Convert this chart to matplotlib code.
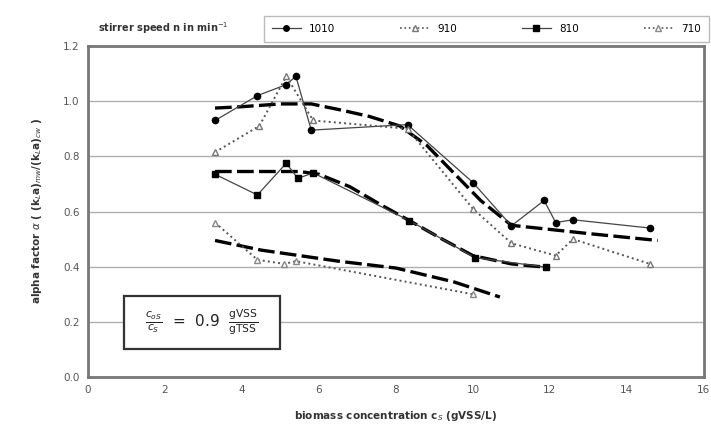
import matplotlib.pyplot as plt
from matplotlib.lines import Line2D
from matplotlib.patches import Rectangle

plt.rcParams['font.family'] = ['DejaVu Sans']

# measured series, stirrer speed in 1/min
x_1010 = [3.3, 4.4, 5.15, 5.4, 5.8, 8.3, 10.0, 11.0, 11.85, 12.15, 12.6, 14.6]
y_1010 = [0.93, 1.02, 1.06, 1.09, 0.895, 0.915, 0.705, 0.548, 0.64, 0.56, 0.57, 0.54]

x_910 = [3.3, 4.45, 5.15, 5.85, 8.3, 10.0, 11.0, 12.15, 12.6, 14.6]
y_910 = [0.815, 0.91, 1.09, 0.93, 0.90, 0.61, 0.485, 0.44, 0.50, 0.41]

x_810 = [3.3, 4.4, 5.15, 5.45, 5.85, 8.35, 10.05, 11.9]
y_810 = [0.735, 0.66, 0.775, 0.72, 0.74, 0.567, 0.433, 0.398]

x_710 = [3.3, 4.4, 5.1, 5.4, 10.0]
y_710 = [0.56, 0.425, 0.41, 0.42, 0.30]

# dashed trend curves
trend_hi_x = [3.3, 4.0, 5.0, 5.8, 6.5, 7.3, 8.1, 8.8, 9.5, 10.2, 11.0, 12.0, 13.0, 14.8]
trend_hi_y = [0.975, 0.98, 0.99, 0.99, 0.97, 0.945, 0.91, 0.84, 0.74, 0.64, 0.55, 0.535, 0.52, 0.495]
trend_mid_x = [3.3, 4.5, 5.5, 6.0, 6.8, 7.6, 8.35, 9.2, 10.0, 11.0, 11.9]
trend_mid_y = [0.745, 0.745, 0.745, 0.735, 0.69, 0.625, 0.567, 0.5, 0.44, 0.41, 0.398]
trend_lo_x = [3.3, 4.5, 6.5, 8.0, 9.5, 10.7]
trend_lo_y = [0.495, 0.46, 0.42, 0.395, 0.345, 0.29]

fig = plt.figure(figsize=(7.11, 4.36), dpi=100)
ax = fig.add_axes([0.1238, 0.1353, 0.8662, 0.7592])

dash = dict(color='black', lw=2.4, dashes=(5, 1.6), zorder=2)
ax.plot(trend_hi_x, trend_hi_y, **dash)
ax.plot(trend_mid_x, trend_mid_y, **dash)
ax.plot(trend_lo_x, trend_lo_y, **dash)

ax.plot(x_1010, y_1010, '-', color='#444444', lw=0.9, marker='o', ms=4.5,
        mfc='black', mec='black', zorder=3)
ax.plot(x_910, y_910, ':', color='#555555', lw=1.4, marker='^', ms=5,
        mfc='white', mec='#777777', zorder=3)
ax.plot(x_810, y_810, '-', color='#444444', lw=0.9, marker='s', ms=4.2,
        mfc='black', mec='black', zorder=3)
ax.plot(x_710, y_710, ':', color='#555555', lw=1.4, marker='^', ms=5,
        mfc='white', mec='#888888', zorder=3)

ax.set_xlim(0, 16)
ax.set_ylim(0, 1.2)
ax.set_xticks(range(0, 17, 2))
ax.set_yticks([0.0, 0.2, 0.4, 0.6, 0.8, 1.0, 1.2])
ax.set_yticklabels([f'{v:.1f}' for v in ax.get_yticks()])
ax.tick_params(length=0, labelsize=7.5, colors='#555555', pad=6)
ax.yaxis.grid(True, color='#b0b0b0', lw=1.0)
ax.set_axisbelow(True)
for s in ax.spines.values():
    s.set_color('#777777')
    s.set_linewidth(2)

ax.set_xlabel(r'biomass concentration c$_S$ (gVSS/L)', fontsize=7.5,
              fontweight='bold', color='#333333', labelpad=10)
ax.set_ylabel(r'alpha factor $\alpha$ ( (k$_L$a)$_{mw}$/(k$_L$a)$_{cw}$ )',
              fontsize=7.5, fontweight='bold', color='#333333', labelpad=14)

# annotation box
ax.add_patch(Rectangle((0.93, 0.10), 4.07, 0.194, fc='white', ec='#333333', lw=1.6, zorder=4))
ax.text(2.95, 0.197,
        r'$\frac{c_{oS}}{c_S}$  =  0.9  $\frac{\mathrm{gVSS}}{\mathrm{gTSS}}$',
        fontsize=11, va='center', ha='center', color='#222222', zorder=5)

# legend
handles = [
    Line2D([], [], color='#444444', lw=0.9, marker='o', ms=4, mfc='black', mec='black'),
    Line2D([], [], color='#555555', lw=1.2, ls=':', marker='^', ms=4, mfc='white', mec='#777777'),
    Line2D([], [], color='#444444', lw=0.9, marker='s', ms=4, mfc='black', mec='black'),
    Line2D([], [], color='#555555', lw=1.2, ls=':', marker='^', ms=4, mfc='white', mec='#888888'),
]
labels = ['1010', '910', '810', '710']
fig.legend(handles, labels, ncol=4, loc='center', bbox_to_anchor=(0.684, 0.934),
           fontsize=7.5, frameon=True, fancybox=False, edgecolor='#aaaaaa',
           handlelength=2.8, columnspacing=6.2, borderpad=0.75, borderaxespad=0)
fig.text(0.138, 0.935, r'stirrer speed n in min$^{-1}$', fontsize=7, fontweight='bold',
         color='#333333', va='center')

fig.savefig('out.png', dpi=100)
